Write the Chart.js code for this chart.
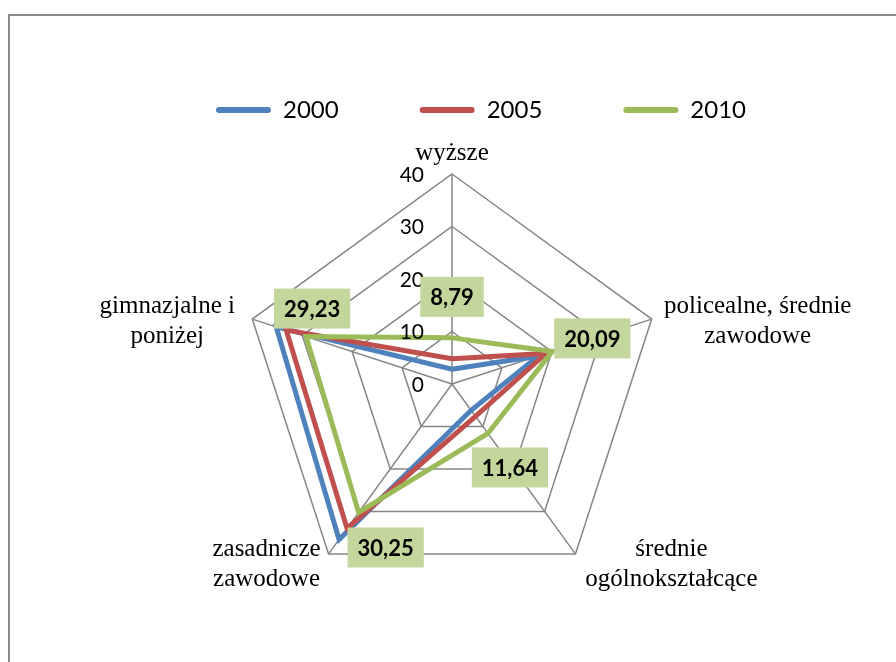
<!DOCTYPE html>
<html>
<head>
<meta charset="utf-8">
<script src="https://cdn.jsdelivr.net/npm/chart.js@4.4.1/dist/chart.umd.min.js"></script>
<style>
  body { margin: 0; background: #fff; overflow: hidden; }
  #frame { position: absolute; left: 8px; top: 14px; width: 1000px; height: 1000px;
           border-left: 2px solid #8a8a8a; border-top: 2px solid #8a8a8a; }
  #myChart { position: absolute; left: 0; top: 0; }
</style>
</head>
<body>
<div id="frame"></div>
<canvas id="myChart" width="896" height="662"></canvas>
<script>
var categories = ['wyższe', ['policealne, średnie', 'zawodowe'], ['średnie', 'ogólnokształcące'], ['zasadnicze', 'zawodowe'], ['gimnazjalne i', 'poniżej']];
var years = ['2000', '2005', '2010'];
var values2000 = [2.8, 17.3, 6.2, 36.6, 35.2];
var values2005 = [4.8, 18.8, 7.6, 34.0, 33.2];
var values2010 = [8.79, 20.09, 11.64, 30.25, 29.23];
var labelText2010 = ['8,79', '20,09', '11,64', '30,25', '29,23'];
var colors = ['#4f81bd', '#c0504d', '#9bbb59'];

// where the category names sit, relative to the outer corner of each spoke
var catShift = [[0, -14], [106, -6], [96, 2], [-62, 2], [-85, -6]];
// where the green value boxes sit, relative to their point
var boxShift = [[0, -41], [40, -13], [22, 34], [27, 35], [6, -28]];

Chart.defaults.color = '#000';

var radarExtras = {
  id: 'radarExtras',
  afterDatasetsDraw: function(chart) {
    var ctx = chart.ctx;
    var scale = chart.scales.r;
    ctx.save();

    // tick numbers left of the top spoke
    ctx.font = '21px Lato';
    ctx.textAlign = 'right';
    ctx.textBaseline = 'middle';
    ctx.fillStyle = '#000';
    scale.ticks.forEach(function(t) {
      var d = scale.getDistanceFromCenterForValue(t.value);
      ctx.fillText(String(t.value), scale.xCenter - 28, scale.yCenter - d + 1);
    });

    // category names
    ctx.font = '25px "Liberation Serif"';
    ctx.textAlign = 'center';
    ctx.textBaseline = 'alphabetic';
    categories.forEach(function(c, i) {
      var p = scale.getPointPosition(i, scale.drawingArea);
      var lines = Array.isArray(c) ? c : [c];
      lines.forEach(function(line, j) {
        ctx.fillText(line, p.x + catShift[i][0], p.y + catShift[i][1] + j * 30);
      });
    });

    // value boxes for 2010
    var meta = chart.getDatasetMeta(2);
    ctx.font = 'bold 22px Lato';
    ctx.textBaseline = 'middle';
    meta.data.forEach(function(pt, i) {
      var cx = pt.x + boxShift[i][0];
      var cy = pt.y + boxShift[i][1];
      var w = ctx.measureText(labelText2010[i]).width + 20;
      ctx.fillStyle = '#c3d69b';
      ctx.fillRect(cx - w / 2, cy - 20, w, 40);
      ctx.fillStyle = '#000';
      ctx.fillText(labelText2010[i], cx, cy + 1);
    });
    ctx.restore();
  }
};

function makeSet(label, data, i) {
  return {
    label: label,
    data: data,
    borderColor: colors[i],
    backgroundColor: colors[i],
    borderWidth: 5,
    pointRadius: 0,
    pointHoverRadius: 0,
    fill: false,
    tension: 0,
    clip: false,
    order: 3 - i
  };
}

var ctx = document.getElementById('myChart').getContext('2d');
var chart = new Chart(ctx, {
  type: 'radar',
  data: {
    labels: categories,
    datasets: [
      makeSet(years[0], values2000, 0),
      makeSet(years[1], values2005, 1),
      makeSet(years[2], values2010, 2)
    ]
  },
  options: {
    responsive: false,
    animation: false,
    events: [],
    layout: { padding: { top: 17, left: 66, right: 0, bottom: 0 } },
    plugins: {
      tooltip: { enabled: false },
      legend: {
        position: 'top',
        labels: {
          boxWidth: 55,
          boxHeight: 6,
          padding: 81,
          useBorderRadius: true,
          borderRadius: 3,
          font: { family: 'Lato', size: 24 },
          sort: function(a, b) { return a.datasetIndex - b.datasetIndex; },
          generateLabels: function(c) {
            return c.data.datasets.map(function(ds, i) {
              return {
                text: ds.label,
                fillStyle: colors[i],
                strokeStyle: colors[i],
                lineWidth: 0,
                borderRadius: 3,
                hidden: false,
                datasetIndex: i
              };
            });
          }
        }
      }
    },
    scales: {
      r: {
        min: 0,
        max: 40,
        ticks: { stepSize: 10, display: false },
        pointLabels: { display: false },
        grid: { color: '#868686', lineWidth: 1.5 },
        angleLines: { color: '#868686', lineWidth: 1.5 },
        afterFit: function(scale) {
          scale.xCenter = 452;
          scale.yCenter = 384;
          scale.drawingArea = 210;
        }
      }
    }
  },
  plugins: [radarExtras]
});
</script>
</body>
</html>
